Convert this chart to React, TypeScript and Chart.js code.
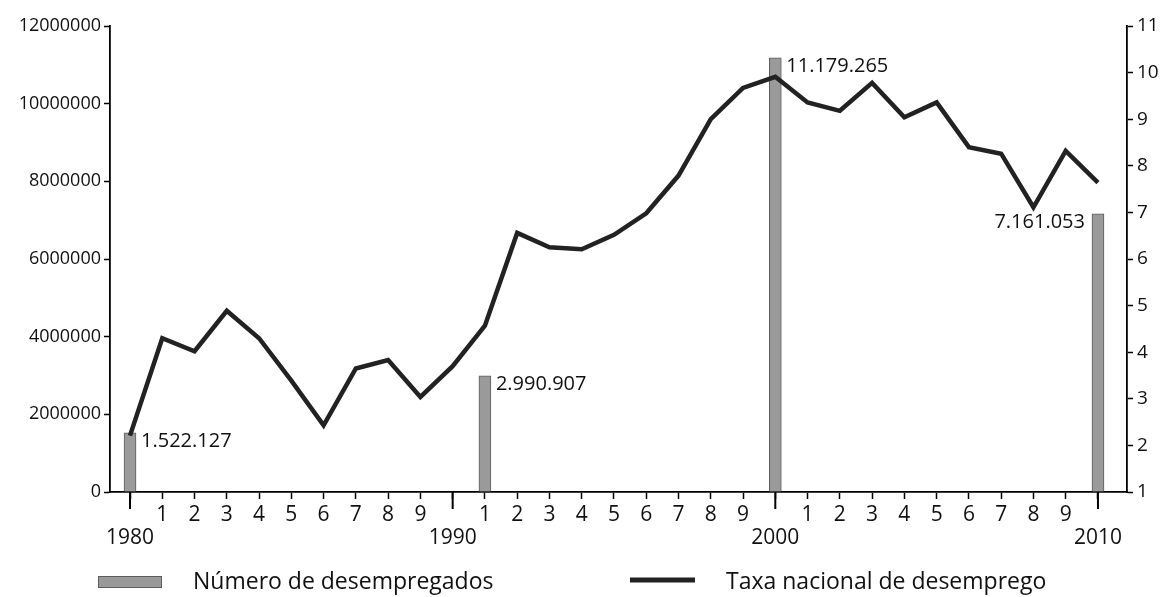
import React, { useEffect, useRef } from "react";
import { Chart, registerables } from "chart.js";

Chart.register(...registerables);

// ---- Data ----
const years = [
  1980, 1981, 1982, 1983, 1984, 1985, 1986, 1987, 1988, 1989,
  1990, 1991, 1992, 1993, 1994, 1995, 1996, 1997, 1998, 1999,
  2000, 2001, 2002, 2003, 2004, 2005, 2006, 2007, 2008, 2009, 2010,
];
const xTickLabels = [
  "1980", "1", "2", "3", "4", "5", "6", "7", "8", "9",
  "1990", "1", "2", "3", "4", "5", "6", "7", "8", "9",
  "2000", "1", "2", "3", "4", "5", "6", "7", "8", "9", "2010",
];
const unemploymentRate = [
  2.21, 4.3, 4.02, 4.89, 4.3, 3.39, 2.43, 3.65, 3.83, 3.04,
  3.7, 4.57, 6.56, 6.25, 6.21, 6.52, 6.98, 7.79, 9.0, 9.67,
  9.91, 9.36, 9.18, 9.78, 9.04, 9.36, 8.4, 8.26, 7.11, 8.32, 7.64,
];
const censusYears = [1980, 1991, 2000, 2010];
const unemployedCount = [1522127, 2990907, 11179265, 7161053];
const unemployedLabels = ["1.522.127", "2.990.907", "11.179.265", "7.161.053"];
const leftTicks = [0, 2000000, 4000000, 6000000, 8000000, 10000000, 12000000];
const rightTicks = [1, 2, 3, 4, 5, 6, 7, 8, 9, 10, 11];
const seriesNames = ["Número de desempregados", "Taxa nacional de desemprego"];

const FONT = "'Open Sans', 'DejaVu Sans', sans-serif";
const BAR_FILL = "#9a9a9a";
const BAR_EDGE = "#5c5c5c";
const LINE_COLOR = "#222222";

const decadeTicksPlugin = {
  id: "decadeTicks",
  afterDraw(chart: any) {
    const x = chart.scales.x;
    const { ctx, chartArea } = chart;
    ctx.save();
    ctx.strokeStyle = "#000";
    ctx.lineWidth = 2;
    years.forEach((yr) => {
      if (yr % 10 === 0) {
        const px = x.getPixelForValue(yr);
        ctx.beginPath();
        ctx.moveTo(px, chartArea.bottom);
        ctx.lineTo(px, chartArea.bottom + 17);
        ctx.stroke();
      }
    });
    ctx.restore();
  },
};

const barLabelPlugin = {
  id: "barLabels",
  afterDatasetsDraw(chart: any) {
    const meta = chart.getDatasetMeta(0);
    const ctx = chart.ctx;
    ctx.save();
    ctx.font = `20px ${FONT}`;
    ctx.fillStyle = "#111";
    ctx.textBaseline = "middle";
    meta.data.forEach((el: any, i: number) => {
      const last = i === meta.data.length - 1;
      const half = el.width / 2;
      ctx.textAlign = last ? "right" : "left";
      const tx = last ? el.x - half - 7 : el.x + half + 5;
      ctx.fillText(unemployedLabels[i], tx, el.y + 8);
    });
    ctx.restore();
  },
};

const legendPlugin = {
  id: "bottomLegend",
  afterDraw(chart: any) {
    const ctx = chart.ctx;
    const cy = 582;
    ctx.save();
    // bar swatch
    ctx.fillStyle = BAR_FILL;
    ctx.strokeStyle = BAR_EDGE;
    ctx.lineWidth = 1;
    ctx.fillRect(98, cy - 6, 64, 12);
    ctx.strokeRect(98.5, cy - 5.5, 63, 11);
    // line swatch
    ctx.strokeStyle = LINE_COLOR;
    ctx.lineWidth = 5;
    ctx.beginPath();
    ctx.moveTo(630, cy - 2);
    ctx.lineTo(695, cy - 2);
    ctx.stroke();
    ctx.fillStyle = "#111";
    ctx.font = `23px ${FONT}`;
    ctx.textAlign = "left";
    ctx.textBaseline = "middle";
    ctx.fillText(seriesNames[0], 193, cy);
    ctx.fillText(seriesNames[1], 726, cy);
    ctx.restore();
  },
};

export default function App() {
  const canvasRef = useRef<HTMLCanvasElement | null>(null);

  useEffect(() => {
    document.body.style.margin = "0";
    const canvas = canvasRef.current;
    if (!canvas) return;
    const chart = new Chart(canvas, {
      data: {
        datasets: [
          {
            type: "bar",
            label: seriesNames[0],
            data: censusYears.map((yr, i) => ({ x: yr, y: unemployedCount[i] })),
            backgroundColor: BAR_FILL,
            borderColor: BAR_EDGE,
            borderWidth: 1,
            barThickness: 12,
            yAxisID: "y",
            order: 1,
          },
          {
            type: "line",
            label: seriesNames[1],
            data: years.map((yr, i) => ({ x: yr, y: unemploymentRate[i] })),
            borderColor: LINE_COLOR,
            borderWidth: 4.5,
            borderJoinStyle: "miter",
            pointRadius: 0,
            tension: 0,
            fill: false,
            yAxisID: "y1",
            order: 0,
          },
        ] as any,
      },
      options: {
        animation: false,
        responsive: true,
        maintainAspectRatio: false,
        events: [],
        layout: { padding: { top: 26, left: 0, right: 0, bottom: 0 } },
        plugins: {
          legend: { display: false },
          tooltip: { enabled: false },
        },
        scales: {
          x: {
            type: "linear",
            offset: false,
            min: 1979.38,
            max: 2010.9,
            afterBuildTicks: (scale: any) => {
              scale.ticks = years.map((v) => ({ value: v }));
            },
            afterFit: (scale: any) => {
              scale.height = 105;
            },
            grid: {
              offset: false,
              drawOnChartArea: false,
              drawTicks: true,
              tickLength: 7,
              tickWidth: 1.5,
              tickColor: "#000",
            },
            border: { display: true, color: "#000", width: 1.8 },
            ticks: {
              autoSkip: false,
              maxRotation: 0,
              padding: 4,
              color: "#111",
              font: { family: FONT, size: 21, lineHeight: 1.1 },
              callback: (value: any) => {
                const idx = years.indexOf(Number(value));
                if (idx < 0) return "";
                const lab = xTickLabels[idx];
                return Number(value) % 10 === 0 ? ["", lab] : lab;
              },
            },
          },
          y: {
            type: "linear",
            position: "left",
            min: 0,
            max: 12000000,
            afterBuildTicks: (scale: any) => {
              scale.ticks = leftTicks.map((v) => ({ value: v }));
            },
            afterFit: (scale: any) => {
              scale.width = 110;
            },
            grid: {
              drawOnChartArea: false,
              tickLength: 6,
              tickWidth: 1.5,
              tickColor: "#000",
            },
            border: { display: true, color: "#000", width: 1.8 },
            ticks: {
              padding: 3,
              color: "#111",
              font: { family: FONT, size: 18 },
              callback: (value: any) => String(value),
            },
          },
          y1: {
            type: "linear",
            position: "right",
            min: 1,
            max: 11,
            afterBuildTicks: (scale: any) => {
              scale.ticks = rightTicks.map((v) => ({ value: v }));
            },
            afterFit: (scale: any) => {
              scale.width = 33;
            },
            grid: {
              drawOnChartArea: false,
              tickLength: 6,
              tickWidth: 1.5,
              tickColor: "#000",
            },
            border: { display: true, color: "#000", width: 1.8 },
            ticks: {
              padding: 4,
              color: "#111",
              font: { family: FONT, size: 19 },
              callback: (value: any) => String(value),
            },
          },
        },
      },
      plugins: [decadeTicksPlugin, barLabelPlugin, legendPlugin],
    } as any);
    return () => {
      chart.destroy();
    };
  }, []);

  return (
    <div style={{ width: "1160px", height: "597px", position: "relative", background: "#fff" }}>
      <canvas ref={canvasRef} />
    </div>
  );
}
